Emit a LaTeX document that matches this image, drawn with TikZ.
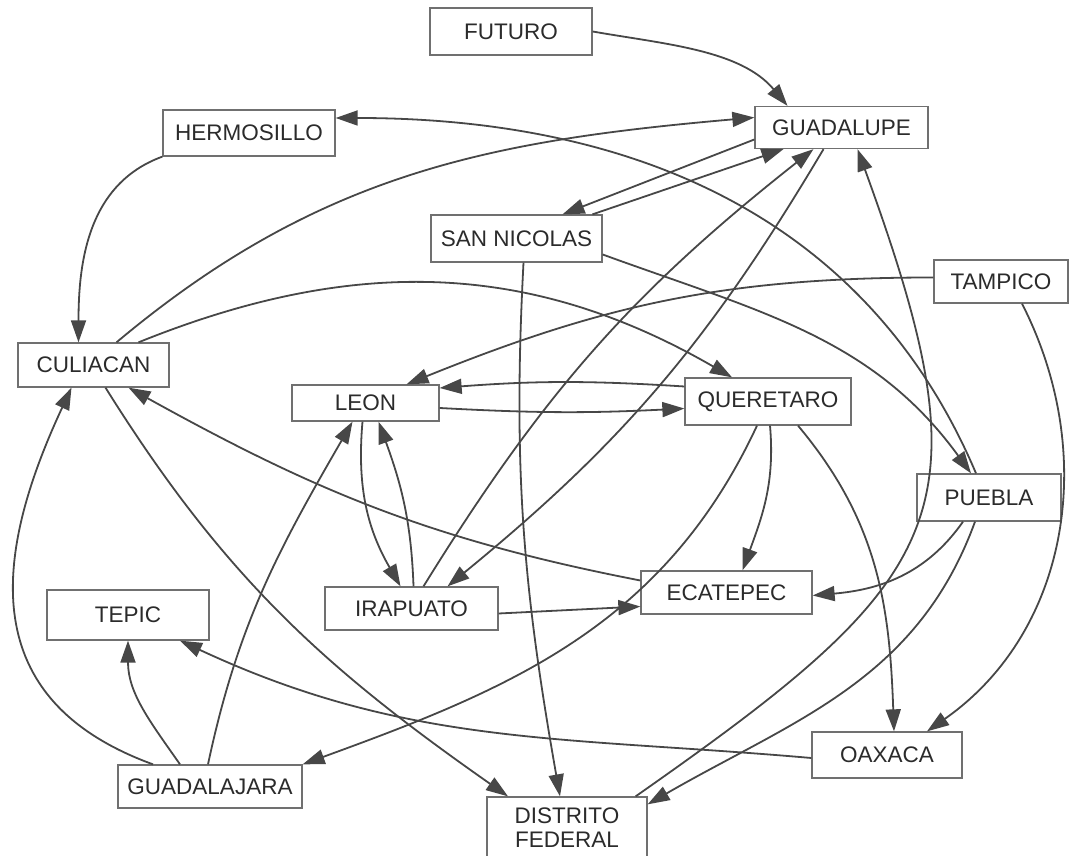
\documentclass[tikz,border=0pt]{standalone}
\usepackage{fontspec}
\setmainfont{Liberation Sans}
\usetikzlibrary{arrows.meta}
\definecolor{boxgray}{HTML}{707070}
\definecolor{linegray}{HTML}{474747}
\definecolor{textgray}{HTML}{2b2b2b}
\begin{document}
\begin{tikzpicture}[x=1pt,y=1pt,
  city/.style={draw=boxgray, line width=1.3pt, fill=white, inner sep=0pt, text=textgray,
    font=\fontsize{22.5}{24}\selectfont, align=center},
  link/.style={draw=linegray, line width=1.8pt, -{Triangle[length=22pt,width=15pt]}}]
\useasboundingbox (0,0) rectangle (1070,856);
%cities
\node[city, minimum width=162, minimum height=47] (futuro) at (511,824.5) {FUTURO};
\node[city, minimum width=173, minimum height=42] (guadalupe) at (841.5,728.5) {GUADALUPE};
\node[city, minimum width=172, minimum height=46] (hermosillo) at (249,723) {HERMOSILLO};
\node[city, minimum width=171, minimum height=47] (sannicolas) at (516.5,617.5) {SAN NICOLAS};
\node[city, minimum width=134, minimum height=43] (tampico) at (1001,574.5) {TAMPICO};
\node[city, minimum width=151, minimum height=44] (culiacan) at (93.5,491) {CULIACAN};
\node[city, minimum width=147, minimum height=36] (leon) at (365.5,453) {LEON};
\node[city, minimum width=166, minimum height=47] (queretaro) at (768,454.5) {QUERETARO};
\node[city, minimum width=144, minimum height=47] (puebla) at (989,358.5) {PUEBLA};
\node[city, minimum width=171, minimum height=43] (ecatepec) at (726.5,263.5) {ECATEPEC};
\node[city, minimum width=162, minimum height=50] (tepic) at (128,241) {TEPIC};
\node[city, minimum width=173, minimum height=43] (irapuato) at (411.5,247.5) {IRAPUATO};
\node[city, minimum width=150, minimum height=46] (oaxaca) at (887,101) {OAXACA};
\node[city, minimum width=184, minimum height=43] (guadalajara) at (210,69.5) {GUADALAJARA};
\node[city, minimum width=160, minimum height=61] (df) at (567,28.5) {DISTRITO\\FEDERAL};
%connections
\draw[link] (futuro.east) to[out=-10,in=130,looseness=0.9] ([xshift=-54pt]guadalupe.north);
\draw[link] ([xshift=-13pt]puebla.north) to[out=113,in=0] ([yshift=15pt]hermosillo.east);
\draw[link] (hermosillo.south west) to[out=200,in=90] ([xshift=-15pt]culiacan.north);
\draw[link] ([xshift=23pt]culiacan.north) to[out=40,in=185] ([yshift=10pt]guadalupe.west);
\draw[link] ([xshift=45pt]culiacan.north) to[out=22,in=150] ([xshift=-36pt]queretaro.north);
\draw[link] ([yshift=-12pt]guadalupe.west) -- ([xshift=46pt]sannicolas.north);
\draw[link] ([xshift=76pt]sannicolas.north) -- ([xshift=-58pt]guadalupe.south);
\draw[link] ([xshift=12pt]irapuato.north) to[bend left=10] ([xshift=-28pt]guadalupe.south);
\draw[link] ([xshift=-18pt]guadalupe.south) to[bend left=10] ([xshift=36pt]irapuato.north);
\draw[link] ([xshift=7pt]sannicolas.south) to[out=-93,in=100] ([xshift=-7pt]df.north);
\draw[link] ([yshift=-16pt]sannicolas.east) to[out=-20,in=126] ([xshift=-18pt]puebla.north);
\draw[link] ([yshift=4pt]tampico.west) to[out=180,in=22] ([xshift=41pt]leon.north);
\draw[link] ([xshift=21pt]tampico.south) to[out=-63,in=35] ([xshift=40pt]oaxaca.north);
\draw[link] ([yshift=15pt]queretaro.west) to[bend right=4] ([yshift=15pt]leon.east);
\draw[link] ([yshift=-5pt]leon.east) to[bend right=3] ([yshift=-7pt]queretaro.west);
\draw[link] ([yshift=12pt]ecatepec.west) to[out=169,in=-29] ([xshift=35pt]culiacan.south);
\draw[link] ([xshift=12pt]culiacan.south) to[out=-58,in=145] ([xshift=-59pt]df.north);
\draw[link] ([xshift=-57pt]guadalajara.north) to[out=160,in=-115,looseness=1.25] ([xshift=-22pt]culiacan.south);
\draw[link] ([xshift=-30pt]guadalajara.north) to[out=125,in=-90] (tepic.south);
\draw[link] ([xshift=-2pt]guadalajara.north) to[out=78,in=-120] ([xshift=-13pt]leon.south);
\draw[link] ([xshift=-3pt]leon.south) to[out=-95,in=120] ([xshift=-11pt]irapuato.north);
\draw[link] ([xshift=2pt]irapuato.north) to[out=92,in=-70] ([xshift=13pt]leon.south);
\draw[link] ([yshift=-5pt]irapuato.east) -- ([yshift=-14pt]ecatepec.west);
\draw[link] ([xshift=-11pt]queretaro.south) to[out=-115,in=20] (guadalajara.north east);
\draw[link] ([xshift=2pt]queretaro.south) to[out=-85,in=70] ([xshift=16pt]ecatepec.north);
\draw[link] ([xshift=30pt]queretaro.south) to[out=-50,in=92] ([xshift=7pt]oaxaca.north);
\draw[link] ([xshift=-26pt]puebla.south) to[out=-125,in=5] ([yshift=-3pt]ecatepec.east);
\draw[link] ([yshift=-3pt]oaxaca.west) to[out=175,in=-25] ([xshift=52pt]tepic.south);
\draw[link] ([xshift=-12pt]df.north east) to[out=35,in=-70,looseness=1.45] ([xshift=16pt]guadalupe.south);
\draw[link] ([xshift=-14pt]puebla.south) to[out=-110,in=30] ([yshift=-8pt]df.north east);
\end{tikzpicture}
\end{document}
